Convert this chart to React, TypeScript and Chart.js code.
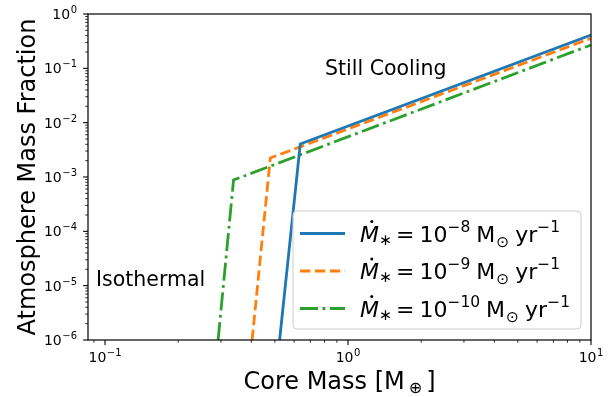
import { useEffect, useRef } from 'react';
import { Chart, registerables } from 'chart.js';

Chart.register(...registerables);

// ---- data ----
const coreMass8 = [0.523, 0.636, 10];
const atmFrac8 = [1e-6, 4.05e-3, 0.41];
const coreMass9 = [0.403, 0.479, 10];
const atmFrac9 = [1e-6, 2.24e-3, 0.357];
const coreMass10 = [0.292, 0.338, 10];
const atmFrac10 = [1e-6, 8.8e-4, 0.269];
const seriesExponents = ['−8', '−9', '−10'];
const seriesColors = ['#1f77b4', '#ff7f0e', '#2ca02c'];
const xTickExponents = [-1, 0, 1];
const yTickExponents = [-6, -5, -4, -3, -2, -1, 0];
const X_MIN = 0.0851;
const X_MAX = 10;
const Y_MIN = 1e-6;
const Y_MAX = 1;

const FONT = 'DejaVu Sans';
const LW = 2.8;
const DASHES: number[][] = [[], [10.4, 4.5], [18, 4.5, 2.8, 4.5]];

const toPts = (xs: number[], ys: number[]) => xs.map((x, i) => ({ x, y: ys[i] }));

function drawPow(ctx: CanvasRenderingContext2D, exp: string, x: number, y: number, align: 'center' | 'right') {
  ctx.font = `14px ${FONT}`;
  const wb = ctx.measureText('10').width;
  ctx.font = `10px ${FONT}`;
  const we = ctx.measureText(exp).width;
  const w = wb + we + 0.5;
  const sx = align === 'center' ? x - w / 2 : x - w;
  ctx.textAlign = 'left';
  ctx.textBaseline = 'alphabetic';
  ctx.font = `14px ${FONT}`;
  ctx.fillText('10', sx, y);
  ctx.font = `10px ${FONT}`;
  ctx.fillText(exp, sx + wb + 0.5, y - 6);
}

function legendLabel(ctx: CanvasRenderingContext2D, exp: string, x: number, y: number) {
  const big = `22px ${FONT}`;
  const small = `15.5px ${FONT}`;
  let cx = x;
  const put = (t: string, font: string, dy = 0, gap = 0) => {
    ctx.font = font;
    ctx.fillText(t, cx, y + dy);
    const w = ctx.measureText(t).width;
    cx += w + gap;
    return w;
  };
  ctx.textAlign = 'left';
  ctx.textBaseline = 'alphabetic';
  const mx = cx;
  const mw = put('M', `italic 22px ${FONT}`);
  ctx.beginPath();
  ctx.arc(mx + mw * 0.62, y - 20, 1.5, 0, Math.PI * 2);
  ctx.fill();
  put('∗', small, 3, 4);
  put('=', big, 0, 5);
  put('10', big);
  put(exp, small, -10, 6);
  put('M', big, 0, 1);
  put('⊙', small, 5, 6);
  put('yr', big);
  put('−1', small, -10);
}

const decorPlugin = {
  id: 'decor',
  afterDatasetsDraw(chart: any) {
    const { ctx, chartArea: a, scales } = chart;
    const xs = scales.x;
    const ys = scales.y;
    ctx.save();
    ctx.fillStyle = '#000';
    ctx.strokeStyle = '#000';

    for (let e = -2; e <= 1; e++) {
      for (let m = 1; m <= 9; m++) {
        const v = m * Math.pow(10, e);
        if (v < X_MIN * 0.999 || v > X_MAX * 1.001) continue;
        const px = xs.getPixelForValue(v);
        const major = m === 1;
        ctx.lineWidth = major ? 1.1 : 0.8;
        ctx.beginPath();
        ctx.moveTo(px, a.bottom);
        ctx.lineTo(px, a.bottom + (major ? 4.9 : 2.8));
        ctx.stroke();
      }
    }
    for (let e = -6; e <= 0; e++) {
      for (let m = 1; m <= 9; m++) {
        const v = m * Math.pow(10, e);
        if (v < Y_MIN * 0.999 || v > Y_MAX * 1.001) continue;
        const py = ys.getPixelForValue(v);
        const major = m === 1;
        ctx.lineWidth = major ? 1.1 : 0.8;
        ctx.beginPath();
        ctx.moveTo(a.left, py);
        ctx.lineTo(a.left - (major ? 4.9 : 2.8), py);
        ctx.stroke();
      }
    }
    ctx.lineWidth = 1.2;
    ctx.strokeRect(a.left, a.top, a.right - a.left, a.bottom - a.top);

    for (const e of xTickExponents) {
      const px = xs.getPixelForValue(Math.pow(10, e));
      drawPow(ctx, e < 0 ? '−' + Math.abs(e) : String(e), px, a.bottom + 22, 'center');
    }
    for (const e of yTickExponents) {
      const py = ys.getPixelForValue(Math.pow(10, e));
      drawPow(ctx, e < 0 ? '−' + Math.abs(e) : String(e), a.left - 11, py + 5, 'right');
    }

    // axis titles
    const TS = 24;
    ctx.textAlign = 'left';
    ctx.textBaseline = 'alphabetic';
    const cxm = (a.left + a.right) / 2;
    const t1 = 'Core Mass [M';
    ctx.font = `${TS}px ${FONT}`;
    const w1 = ctx.measureText(t1).width;
    ctx.font = `16px ${FONT}`;
    const w2 = ctx.measureText('⊕').width;
    ctx.font = `${TS}px ${FONT}`;
    const w3 = ctx.measureText(']').width;
    const total = w1 + 4 + w2 + 4 + w3;
    const sx = cxm - total / 2;
    ctx.fillText(t1, sx, 389);
    ctx.font = `16px ${FONT}`;
    ctx.fillText('⊕', sx + w1 + 4, 393);
    ctx.font = `${TS}px ${FONT}`;
    ctx.fillText(']', sx + w1 + 4 + w2 + 4, 389);

    ctx.save();
    ctx.translate(35, (a.top + a.bottom) / 2);
    ctx.rotate(-Math.PI / 2);
    ctx.textAlign = 'center';
    ctx.font = `${TS}px ${FONT}`;
    ctx.fillText('Atmosphere Mass Fraction', 0, 0);
    ctx.restore();

    // annotations
    ctx.font = `20.5px ${FONT}`;
    ctx.textAlign = 'left';
    ctx.fillText('Still Cooling', 325, 75);
    ctx.fillText('Isothermal', 96, 286);

    // legend
    const lx = 293, ly = 211, lw = 288, lh = 118;
    ctx.beginPath();
    if ((ctx as any).roundRect) (ctx as any).roundRect(lx, ly, lw, lh, 4);
    else ctx.rect(lx, ly, lw, lh);
    ctx.fillStyle = 'rgba(255,255,255,0.8)';
    ctx.fill();
    ctx.strokeStyle = '#cccccc';
    ctx.lineWidth = 1;
    ctx.stroke();
    const rows = [233.5, 271, 308.5];
    rows.forEach((ry, i) => {
      ctx.strokeStyle = seriesColors[i];
      ctx.lineWidth = LW;
      ctx.setLineDash(DASHES[i]);
      ctx.beginPath();
      ctx.moveTo(300, ry);
      ctx.lineTo(345, ry);
      ctx.stroke();
      ctx.setLineDash([]);
      ctx.fillStyle = '#000';
      legendLabel(ctx, seriesExponents[i], 360, ry + 8);
    });
    ctx.restore();
  },
};

export default function App() {
  const ref = useRef<HTMLCanvasElement | null>(null);
  useEffect(() => {
    document.body.style.margin = '0';
    const canvas = ref.current!;
    const chart = new Chart(canvas, {
      type: 'line',
      data: {
        datasets: [
          { data: toPts(coreMass8, atmFrac8) },
          { data: toPts(coreMass9, atmFrac9) },
          { data: toPts(coreMass10, atmFrac10) },
        ].map((d, i) => ({
          ...d,
          borderColor: seriesColors[i],
          backgroundColor: seriesColors[i],
          borderWidth: LW,
          borderDash: DASHES[i],
          pointRadius: 0,
          tension: 0,
          clip: 0,
          fill: false,
        })),
      },
      options: {
        animation: false,
        responsive: false,
        events: [],
        layout: { padding: { top: 14, right: 17, left: 0, bottom: 0 } },
        plugins: { legend: { display: false }, tooltip: { enabled: false } },
        scales: {
          x: {
            type: 'logarithmic',
            min: X_MIN,
            max: X_MAX,
            ticks: { display: false },
            grid: { display: false },
            border: { display: false },
            afterFit: (s: any) => { s.height = 57; },
          },
          y: {
            type: 'logarithmic',
            min: Y_MIN,
            max: Y_MAX,
            ticks: { display: false },
            grid: { display: false },
            border: { display: false },
            afterFit: (s: any) => { s.width = 88; },
          },
        },
      },
      plugins: [decorPlugin],
    } as any);
    return () => chart.destroy();
  }, []);
  return (
    <div style={{ width: 608, height: 397 }}>
      <canvas ref={ref} width={608} height={397} />
    </div>
  );
}
